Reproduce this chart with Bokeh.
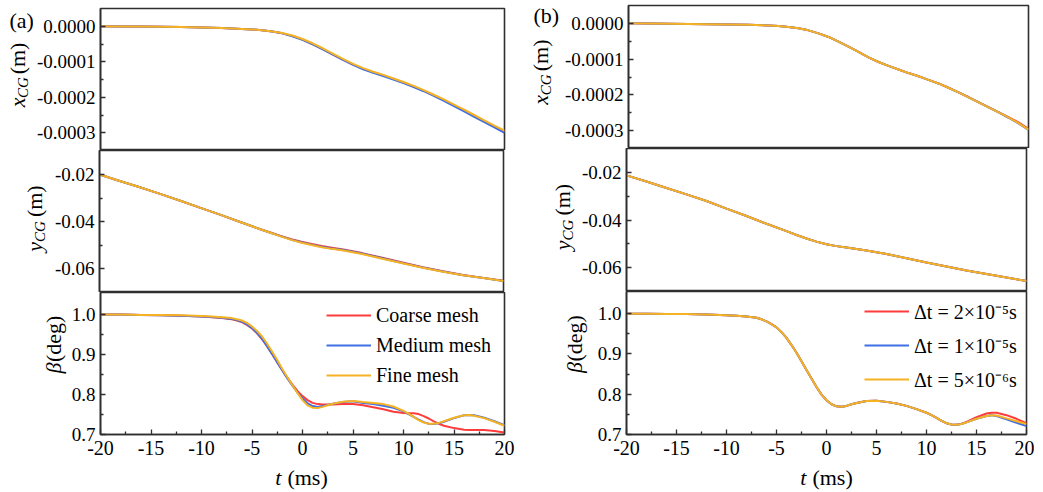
import math
from bokeh.plotting import figure
from bokeh.models import (FixedTicker, PrintfTickFormatter, Legend, LegendItem, Range1d)
from bokeh.layouts import row, column
from bokeh.embed import file_html
from bokeh.resources import INLINE
from bokeh.core.properties import value

# ---------------- data ----------------
SERIES_A = ["Coarse mesh", "Medium mesh", "Fine mesh"]
SERIES_B = ["\u0394t = 2\u00d710\u207b\u2075s", "\u0394t = 1\u00d710\u207b\u2075s", "\u0394t = 5\u00d710\u207b\u2076s"]

X_TICKS = [-20, -15, -10, -5, 0, 5, 10, 15, 20]
X_MINOR = [-17.5, -12.5, -7.5, -2.5, 2.5, 7.5, 12.5, 17.5]

# x_CG (m)
T_X = [-20, -18, -16, -14, -12, -10, -8, -6, -5, -4, -3, -2, -1, 0, 1, 2, 3, 4, 5, 6,
       7, 8, 9, 10, 11, 12, 13, 14, 15, 16, 17, 18, 19, 20]
XCG_A_COARSE = [0, -0.5e-6, -1.0e-6, -1.6e-6, -2.4e-6, -3.4e-6, -5.0e-6, -7.6e-6, -9.0e-6, -11.5e-6,
                -15e-6, -20e-6, -27.5e-6, -37.5e-6, -50e-6, -64e-6, -79e-6, -94e-6, -107.5e-6, -119.5e-6,
                -129.5e-6, -138.5e-6, -148.5e-6, -158.5e-6, -169.5e-6, -181.5e-6, -194.5e-6, -208e-6,
                -223e-6, -237.5e-6, -252.5e-6, -267.5e-6, -282.5e-6, -297e-6]
XCG_A_MEDIUM = [0, -0.5e-6, -1.0e-6, -1.6e-6, -2.4e-6, -3.4e-6, -5.0e-6, -7.6e-6, -9.0e-6, -11.5e-6,
                -15e-6, -20e-6, -28e-6, -38e-6, -51e-6, -65e-6, -80e-6, -95e-6, -109e-6, -121e-6,
                -131e-6, -140e-6, -150e-6, -160e-6, -171e-6, -183e-6, -196e-6, -210e-6,
                -225e-6, -240e-6, -255e-6, -270e-6, -285e-6, -300e-6]
XCG_A_FINE = [0, -0.5e-6, -1.0e-6, -1.6e-6, -2.4e-6, -3.4e-6, -5.0e-6, -7.6e-6, -9.0e-6, -11.5e-6,
              -14.5e-6, -19e-6, -26e-6, -36e-6, -48e-6, -62e-6, -77e-6, -92e-6, -106e-6, -118e-6,
              -128e-6, -137e-6, -147e-6, -157e-6, -168e-6, -180e-6, -193e-6, -206e-6,
              -221e-6, -235e-6, -250e-6, -265e-6, -280e-6, -294e-6]
XCG_B_DT2 = [0, -0.4e-6, -0.9e-6, -1.5e-6, -2.2e-6, -3.0e-6, -4.0e-6, -6.0e-6, -7.5e-6, -10e-6,
             -13.5e-6, -19.5e-6, -28e-6, -38e-6, -51e-6, -65e-6, -80e-6, -95e-6, -108e-6, -119e-6,
             -129e-6, -139e-6, -148e-6, -158e-6, -168e-6, -180e-6, -193e-6, -206e-6,
             -220e-6, -234e-6, -248e-6, -262e-6, -277e-6, -295e-6]
XCG_B_DT1 = [0, -0.4e-6, -0.9e-6, -1.5e-6, -2.2e-6, -3.0e-6, -4.0e-6, -6.0e-6, -7.5e-6, -10e-6,
             -13.5e-6, -19.5e-6, -28e-6, -38e-6, -51e-6, -65e-6, -80e-6, -95e-6, -108e-6, -119e-6,
             -129e-6, -139e-6, -148e-6, -158e-6, -168e-6, -180e-6, -193e-6, -207e-6,
             -221e-6, -235e-6, -249e-6, -264e-6, -280e-6, -298e-6]
XCG_B_DT05 = [0, -0.4e-6, -0.9e-6, -1.5e-6, -2.2e-6, -3.0e-6, -4.0e-6, -6.0e-6, -7.5e-6, -10e-6,
              -13.5e-6, -19.5e-6, -28e-6, -38e-6, -51e-6, -65e-6, -80e-6, -95e-6, -108e-6, -119e-6,
              -129e-6, -139e-6, -148e-6, -158e-6, -168e-6, -180e-6, -193e-6, -207e-6,
              -221e-6, -235e-6, -249e-6, -263e-6, -279e-6, -297e-6]

# y_CG (m)
T_Y = [-20, -18, -16, -14, -12, -10, -8, -6, -4, -3, -2, -1, 0, 1, 2, 3, 4, 6, 8, 10, 12, 14, 16, 18, 20]
YCG_A_COARSE = [-0.0200, -0.0227, -0.0254, -0.0282, -0.0311, -0.0341, -0.0371, -0.0402, -0.0433, -0.0447,
                -0.0461, -0.0474, -0.0485, -0.0494, -0.0503, -0.0510, -0.0517, -0.0533, -0.0553, -0.0573,
                -0.0593, -0.0610, -0.0626, -0.0638, -0.0650]
YCG_A_MEDIUM = [-0.0200, -0.0227, -0.0254, -0.0282, -0.0311, -0.0341, -0.0371, -0.0402, -0.0433, -0.0448,
                -0.0462, -0.0476, -0.0487, -0.0497, -0.0506, -0.0513, -0.0519, -0.0535, -0.0555, -0.0575,
                -0.0594, -0.0611, -0.0627, -0.0639, -0.0651]
YCG_A_FINE = [-0.0200, -0.0227, -0.0254, -0.0282, -0.0311, -0.0341, -0.0371, -0.0402, -0.0433, -0.0448,
              -0.0463, -0.0477, -0.0489, -0.0499, -0.0508, -0.0515, -0.0521, -0.0537, -0.0557, -0.0576,
              -0.0595, -0.0612, -0.0627, -0.0639, -0.0651]
YCG_B_DT2 = [-0.0211, -0.0237, -0.0264, -0.0291, -0.0319, -0.0351, -0.0382, -0.0415, -0.0446, -0.0462,
             -0.0477, -0.0490, -0.0501, -0.0509, -0.0515, -0.0521, -0.0527, -0.0542, -0.0560, -0.0578,
             -0.0595, -0.0612, -0.0626, -0.0641, -0.0656]
YCG_B_DT1 = [-0.0211, -0.0237, -0.0264, -0.0291, -0.0319, -0.0351, -0.0382, -0.0415, -0.0446, -0.0462,
             -0.0477, -0.0490, -0.0501, -0.0509, -0.0515, -0.0521, -0.0527, -0.0542, -0.0560, -0.0578,
             -0.0595, -0.0612, -0.0626, -0.0641, -0.0656]
YCG_B_DT05 = [-0.0211, -0.0237, -0.0264, -0.0291, -0.0319, -0.0351, -0.0382, -0.0415, -0.0446, -0.0462,
              -0.0477, -0.0490, -0.0501, -0.0509, -0.0515, -0.0521, -0.0527, -0.0542, -0.0560, -0.0578,
              -0.0595, -0.0612, -0.0626, -0.0641, -0.0656]

# beta (deg)
T_B = [-20, -18, -16, -14, -12, -10, -9, -8, -7, -6.5, -6, -5.5, -5, -4.5, -4, -3.5, -3, -2.5, -2,
       -1.5, -1, -0.5, 0, 0.5, 1, 1.5, 2, 2.5, 3, 4, 5, 6, 7, 8, 9, 10, 10.5, 11, 11.5, 12, 12.5,
       13, 13.5, 14, 15, 16, 16.5, 17, 18, 19, 20]
BETA_A_COARSE = [1.000, 1.000, 0.999, 0.998, 0.997, 0.995, 0.993, 0.991, 0.988, 0.985, 0.981, 0.974,
                 0.965, 0.953, 0.938, 0.920, 0.901, 0.881, 0.861, 0.842, 0.825, 0.809, 0.796, 0.786,
                 0.779, 0.776, 0.775, 0.775, 0.775, 0.776, 0.776, 0.773, 0.768, 0.763, 0.757, 0.754,
                 0.753, 0.753, 0.751, 0.746, 0.740, 0.733, 0.727, 0.722, 0.716, 0.712, 0.711, 0.711,
                 0.711, 0.709, 0.705]
BETA_A_MEDIUM = [1.000, 1.000, 0.999, 0.998, 0.997, 0.995, 0.994, 0.992, 0.989, 0.986, 0.982, 0.975,
                 0.966, 0.954, 0.939, 0.921, 0.901, 0.880, 0.860, 0.840, 0.822, 0.805, 0.790, 0.778,
                 0.771, 0.769, 0.771, 0.774, 0.777, 0.781, 0.783, 0.779, 0.776, 0.772, 0.767, 0.758,
                 0.751, 0.744, 0.737, 0.731, 0.727, 0.726, 0.728, 0.732, 0.741, 0.748, 0.749, 0.748,
                 0.742, 0.733, 0.723]
BETA_A_FINE = [1.000, 1.000, 0.999, 0.999, 0.998, 0.996, 0.995, 0.993, 0.991, 0.988, 0.985, 0.979,
               0.970, 0.959, 0.945, 0.927, 0.907, 0.886, 0.864, 0.843, 0.823, 0.804, 0.786, 0.773,
               0.767, 0.766, 0.769, 0.773, 0.777, 0.782, 0.784, 0.781, 0.779, 0.776, 0.770, 0.759,
               0.752, 0.744, 0.736, 0.730, 0.727, 0.727, 0.729, 0.733, 0.742, 0.748, 0.749, 0.747,
               0.741, 0.732, 0.722]
BETA_B_DT2 = [1.000, 1.000, 0.999, 0.999, 0.998, 0.996, 0.995, 0.993, 0.990, 0.986, 0.981, 0.974,
              0.966, 0.954, 0.940, 0.922, 0.903, 0.882, 0.860, 0.839, 0.818, 0.799, 0.785, 0.775,
              0.770, 0.769, 0.771, 0.775, 0.778, 0.783, 0.784, 0.781, 0.777, 0.771, 0.763, 0.754,
              0.748, 0.741, 0.734, 0.728, 0.725, 0.724, 0.727, 0.731, 0.743, 0.752, 0.754, 0.754,
              0.748, 0.739, 0.728]
BETA_B_DT1 = [1.000, 1.000, 0.999, 0.999, 0.998, 0.996, 0.995, 0.993, 0.990, 0.986, 0.981, 0.974,
              0.966, 0.954, 0.940, 0.922, 0.903, 0.882, 0.860, 0.839, 0.818, 0.799, 0.785, 0.775,
              0.770, 0.769, 0.771, 0.775, 0.778, 0.783, 0.784, 0.781, 0.777, 0.771, 0.763, 0.754,
              0.748, 0.741, 0.734, 0.728, 0.725, 0.724, 0.726, 0.730, 0.739, 0.746, 0.748, 0.746,
              0.738, 0.729, 0.721]
BETA_B_DT05 = [1.000, 1.000, 0.999, 0.999, 0.998, 0.996, 0.995, 0.993, 0.990, 0.986, 0.981, 0.974,
               0.966, 0.954, 0.940, 0.922, 0.903, 0.882, 0.860, 0.839, 0.818, 0.799, 0.785, 0.775,
               0.770, 0.769, 0.771, 0.775, 0.778, 0.783, 0.784, 0.781, 0.777, 0.771, 0.763, 0.754,
               0.748, 0.741, 0.734, 0.728, 0.725, 0.724, 0.726, 0.730, 0.739, 0.746, 0.748, 0.747,
               0.740, 0.733, 0.726]

# ---------------- style ----------------
FONT = "Liberation Serif"
COLORS = ["#FF3B3B", "#3F6FE3", "#F5B223"]
FRAME_COLOR = "#2f2f2f"

REG = {" ": .25, "(": .333, ")": .333, "m": .778, "s": .389, "d": .5, "e": .444, "g": .5}
ITA = {"x": .444, "y": .444, "C": .667, "G": .722, "t": .278, "\u03b2": .5}

YT1, YM1, YR1 = [0.0, -0.0001, -0.0002, -0.0003], [-0.00005, -0.00015, -0.00025], (-0.00035, 0.00005)
YT2, YM2, YR2 = [-0.02, -0.04, -0.06], [-0.03, -0.05], (-0.07, -0.0098)
YT3, YM3, YR3 = [0.7, 0.8, 0.9, 1.0], [0.75, 0.85, 0.95], (0.7, 1.055)
BOTTOM = 30      # room for x tick labels
XSTRIP_H = 28    # strip holding the x-axis title


def tw(s, size, italic):
    tab = ITA if italic else REG
    return sum(tab.get(c, .5) for c in s) * size


def make_fig(fw, fh, left, right, top, bottom, yr, yticks, yminor, fmt, xaxis):
    p = figure(frame_width=fw, frame_height=fh, min_border_left=left, min_border_right=right,
               min_border_top=top, min_border_bottom=bottom,
               x_range=Range1d(-20, 20), y_range=Range1d(*yr),
               x_axis_location="below" if xaxis else None,
               output_backend="svg", toolbar_location=None)
    p.grid.visible = False
    p.outline_line_color = FRAME_COLOR
    p.outline_line_width = 1.6
    p.background_fill_color = "white"
    p.border_fill_color = "white"
    axes = [p.yaxis[0]]
    p.yaxis[0].ticker = FixedTicker(ticks=yticks, minor_ticks=yminor)
    p.yaxis[0].formatter = PrintfTickFormatter(format=fmt)
    p.yaxis[0].major_label_text_font_size = "19px"
    p.yaxis[0].major_label_standoff = 5
    if xaxis:
        p.xaxis[0].ticker = FixedTicker(ticks=X_TICKS, minor_ticks=X_MINOR)
        p.xaxis[0].formatter = PrintfTickFormatter(format="%d")
        p.xaxis[0].major_label_text_font_size = "20px"
        p.xaxis[0].major_label_standoff = 6
        axes.append(p.xaxis[0])
    for ax in axes:
        ax.major_tick_in = 5
        ax.major_tick_out = 0
        ax.minor_tick_in = 3
        ax.minor_tick_out = 0
        ax.axis_line_color = FRAME_COLOR
        ax.axis_line_width = 1.6
        ax.major_tick_line_color = FRAME_COLOR
        ax.major_tick_line_width = 1.3
        ax.minor_tick_line_color = FRAME_COLOR
        ax.minor_tick_line_width = 1.3
        ax.major_label_text_font = FONT
        ax.major_label_text_color = "black"
    return p


def strip(w, h):
    p = figure(width=w, height=h, x_range=Range1d(0, w), y_range=Range1d(0, h), min_border=0,
               x_axis_location=None, y_axis_location=None, output_backend="svg",
               toolbar_location=None)
    p.grid.visible = False
    p.outline_line_color = None
    p.background_fill_color = "white"
    p.border_fill_color = "white"
    return p


def txt(p, x, y, s, size, italic, angle=0.0):
    p.text(x=[x], y=[y], text=[s], angle=angle, text_font=value(FONT),
           text_font_size=value(f"{size}px"),
           text_font_style=value("italic" if italic else "normal"),
           text_align=value("left"), text_baseline=value("middle"), text_color="black")


def vlabel(p, parts, xm, yc):
    total = sum(tw(s, sz, it) + gap for s, sz, it, dx, gap in parts)
    y = yc - total / 2
    for s, sz, it, dx, gap in parts:
        txt(p, xm + dx, y, s, sz, it, angle=math.pi / 2)
        y += tw(s, sz, it) + gap


def hlabel(p, parts, xc, ym):
    total = sum(tw(s, sz, it) + gap for s, sz, it, gap in parts)
    x = xc - total / 2
    for s, sz, it, gap in parts:
        txt(p, x, ym, s, sz, it)
        x += tw(s, sz, it) + gap


def add_lines(p, t, ys):
    return [p.line(t, y, line_color=c, line_width=2.0) for y, c in zip(ys, COLORS)]


def add_legend(p, rs, labels, loc, row_h):
    leg = Legend(items=[LegendItem(label=l, renderers=[r]) for l, r in zip(labels, rs)],
                 location=loc, glyph_width=45, glyph_height=row_h, label_height=row_h,
                 label_standoff=5, spacing=0, padding=0, margin=0,
                 label_text_font=FONT, label_text_font_size="20px", label_text_color="black",
                 border_line_alpha=0, background_fill_alpha=0)
    p.add_layout(leg)


XLAB = [("x", 22, True, 0, 0), ("CG", 15, True, 6, 4), ("(m)", 22, False, 0, 0)]
YLAB = [("y", 22, True, 0, 0), ("CG", 15, True, 6, 4), ("(m)", 22, False, 0, 0)]
BLAB = [("\u03b2", 22, True, 0, 3), ("(deg)", 22, False, 0, 0)]


def build(frame_left, fw, right, top, fh, strips, lab_x, lab_c, data, labels,
          tag, tag_xy, legloc, legrow):
    heights = [top + fh, fh, fh + BOTTOM]
    tops = [top, 0, 0]
    bottoms = [0, 0, BOTTOM]
    specs = [(YR1, YT1, YM1, "%.4f", XLAB, T_X), (YR2, YT2, YM2, "%.2f", YLAB, T_Y),
             (YR3, YT3, YM3, "%.1f", BLAB, T_B)]
    rows = []
    for i in range(3):
        yr, yt, ym, fmt, lab, tt = specs[i]
        m = make_fig(fw, fh, frame_left - strips[i], right, tops[i], bottoms[i], yr, yt, ym, fmt, i == 2)
        rs = add_lines(m, tt, data[i])
        s = strip(strips[i], heights[i])
        vlabel(s, lab, lab_x[i], bottoms[i] + fh / 2 + lab_c[i])
        if i == 0:
            txt(s, tag_xy[0], tag_xy[1], tag, 22, False)
        if i == 2:
            add_legend(m, rs, labels, legloc, legrow)
        rows.append(row(s, m))
    xs = strip(frame_left + fw + right, XSTRIP_H)
    hlabel(xs, [("t", 22, True, 6), ("(ms)", 22, False, 0)], frame_left + fw / 2, 15)
    return column(*rows, xs)


colA = build(99, 404, 12, 8, 142, [33, 49, 68], [16.5, 33.5, 52.5], [8, 3, 3],
             [[XCG_A_COARSE, XCG_A_MEDIUM, XCG_A_FINE],
              [YCG_A_COARSE, YCG_A_MEDIUM, YCG_A_FINE],
              [BETA_A_COARSE, BETA_A_MEDIUM, BETA_A_FINE]],
             SERIES_A, "(a)", (9, 137), (226, 44), 30)
colB = build(110, 400, 8, 5, 143, [45, 62, 78], [23.5, 45.5, 57.5], [7, 3, 3],
             [[XCG_B_DT2, XCG_B_DT1, XCG_B_DT05],
              [YCG_B_DT2, YCG_B_DT1, YCG_B_DT05],
              [BETA_B_DT2, BETA_B_DT1, BETA_B_DT05]],
             SERIES_B, "(b)", (17, 138), (238, 38), 34)

layout = row(colA, colB)
open("out.html", "w").write(file_html(layout, INLINE))
